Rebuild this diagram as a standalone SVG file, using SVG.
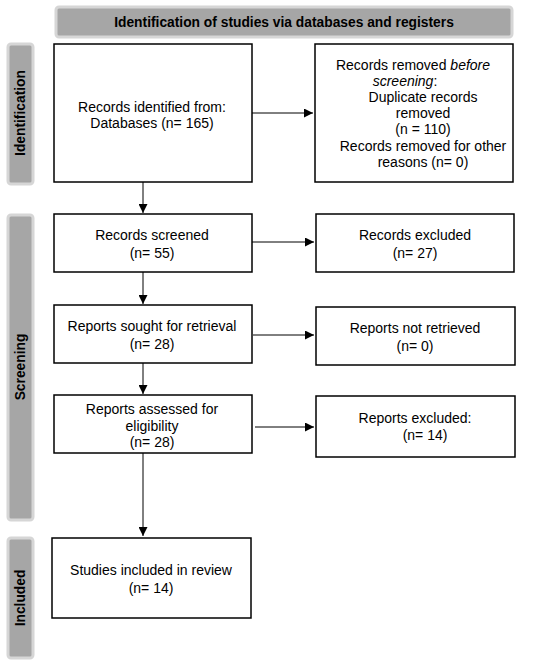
<svg xmlns="http://www.w3.org/2000/svg" width="550" height="671" viewBox="0 0 550 671">
<defs>
<style>
.box{fill:#fff;stroke:#000;stroke-width:1.5}
.band{fill:#a6a6a6;stroke:#d6d6d6;stroke-width:3}
.t{font-family:"Liberation Sans",Arial,sans-serif;font-size:14px;fill:#000;text-anchor:middle}
.b{font-family:"Liberation Sans",Arial,sans-serif;font-size:13.8px;font-weight:bold;fill:#000;text-anchor:middle}
.c{stroke:#000;stroke-width:1;fill:none;marker-end:url(#ah)}
</style>
<marker id="ah" viewBox="0 0 10 10" refX="10" refY="5" markerWidth="9" markerHeight="9" markerUnits="userSpaceOnUse" orient="auto">
<path d="M0,0 L10,5 L0,10 z" fill="#000"/>
</marker>
</defs>
<rect width="550" height="671" fill="#fff"/>
<g id="header">
<rect class="band" x="56" y="7" width="456" height="30" rx="3"/>
<text class="b" x="284" y="27">Identification of studies via databases and registers</text>
</g>
<g id="label-identification">
<rect class="band" x="8" y="44" width="25" height="140" rx="3"/>
<text class="b" transform="translate(25,113) rotate(-90)">Identification</text>
</g>
<g id="label-screening">
<rect class="band" x="8" y="215" width="25" height="305" rx="3"/>
<text class="b" transform="translate(25,367) rotate(-90)">Screening</text>
</g>
<g id="label-included">
<rect class="band" x="8" y="538" width="25" height="120" rx="3"/>
<text class="b" transform="translate(25,598) rotate(-90)">Included</text>
</g>
<g id="n-identified">
<rect class="box" x="54" y="44" width="198" height="138"/>
<text class="t" x="152" y="112">Records identified from:</text>
<text class="t" x="152" y="128">Databases (n= 165)</text>
</g>
<g id="n-removed">
<rect class="box" x="315" y="44" width="198" height="138"/>
<text class="t" x="413" y="70">Records removed <tspan font-style="italic">before</tspan></text>
<text class="t" x="405" y="86"><tspan font-style="italic">screening</tspan>:</text>
<text class="t" x="423" y="102">Duplicate records</text>
<text class="t" x="423" y="118">removed</text>
<text class="t" x="423" y="134">(n = 110)</text>
<text class="t" x="423" y="151">Records removed for other</text>
<text class="t" x="423" y="167">reasons (n= 0)</text>
</g>
<g id="n-screened">
<rect class="box" x="54" y="214" width="198" height="58"/>
<text class="t" x="152" y="240">Records screened</text>
<text class="t" x="152" y="258">(n= 55)</text>
</g>
<g id="n-excluded">
<rect class="box" x="316" y="214" width="198" height="58"/>
<text class="t" x="415" y="240">Records excluded</text>
<text class="t" x="415" y="258">(n= 27)</text>
</g>
<g id="n-sought">
<rect class="box" x="54" y="305" width="198" height="58"/>
<text class="t" x="152" y="331">Reports sought for retrieval</text>
<text class="t" x="152" y="349">(n= 28)</text>
</g>
<g id="n-notretrieved">
<rect class="box" x="316" y="307" width="199" height="58"/>
<text class="t" x="415" y="333">Reports not retrieved</text>
<text class="t" x="415" y="351">(n= 0)</text>
</g>
<g id="n-assessed">
<rect class="box" x="54" y="395" width="198" height="58"/>
<text class="t" x="152" y="414">Reports assessed for</text>
<text class="t" x="152" y="431">eligibility</text>
<text class="t" x="152" y="447">(n= 28)</text>
</g>
<g id="n-reportsexcluded">
<rect class="box" x="316" y="396" width="199" height="61"/>
<text class="t" x="415" y="423">Reports excluded:</text>
<text class="t" x="425" y="440">(n= 14)</text>
</g>
<g id="n-included">
<rect class="box" x="52" y="538" width="199" height="80"/>
<text class="t" x="151" y="575">Studies included in review</text>
<text class="t" x="151" y="593">(n= 14)</text>
</g>
<g id="connectors">
<line class="c" x1="252" y1="113" x2="313" y2="113"/>
<line class="c" x1="143" y1="182" x2="143" y2="213"/>
<line class="c" x1="252" y1="242" x2="314" y2="242"/>
<line class="c" x1="143" y1="272" x2="143" y2="304"/>
<line class="c" x1="253" y1="335" x2="314" y2="335"/>
<line class="c" x1="143" y1="363" x2="143" y2="394"/>
<line class="c" x1="255" y1="427" x2="314" y2="427"/>
<line class="c" x1="143" y1="453" x2="143" y2="536"/>
</g>
</svg>
